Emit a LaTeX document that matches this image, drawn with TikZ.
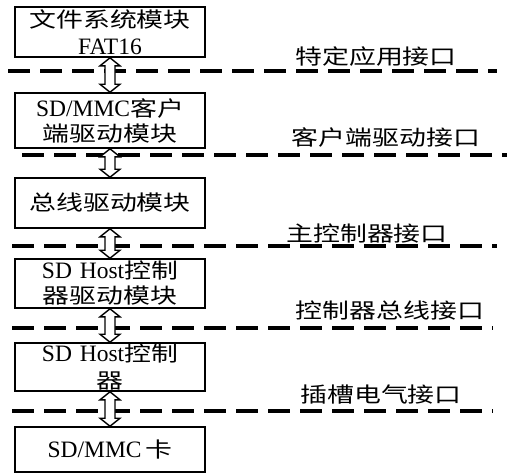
\documentclass[tikz,border=0pt]{standalone}
\usepackage{fontspec}
\setmainfont{Liberation Serif}
\newfontfamily\cjk[FakeStretch=1.28]{Noto Sans CJK SC}
\newcommand\zh[1]{{\fontsize{21}{25}\selectfont\cjk #1}}
\usetikzlibrary{calc}
\newcommand\dblarr[2]{\draw[arr] (#1.south) -- ++(10,8) -- ++(-5,0) -- ($(#2.north)+(5,-8)$) -- ++(5,0) -- (#2.north) -- ++(-10,-8) -- ++(5,0) -- ($(#1.south)+(-5,8)$) -- ++(-5,0) -- cycle;}
\begin{document}
\begin{tikzpicture}[x=1pt,y=-1pt,
 box/.style={draw, line width=1.6pt, minimum width=190pt, text width=186pt, align=center, inner sep=0pt, font=\fontsize{23.5}{25}\selectfont},
 sep/.style={line width=4pt, dash pattern=on 22pt off 10pt},
 lbl/.style={font=\fontsize{21}{25}\selectfont\cjk, inner sep=0pt},
 arr/.style={draw, line width=1.4pt, fill=white, line join=miter}]
\useasboundingbox[fill=white] (0,0) rectangle (510,475);
% boxes
\node[box, minimum height=50pt] (b1) at (110,32) {\zh{文件系统模块}\\[2pt]FAT16};
\node[box, minimum height=55pt] (b2) at (110,120.5) {SD/MMC\zh{客户}\\\zh{端驱动模块}};
\node[box, minimum height=50pt] (b3) at (110,203) {\zh{总线驱动模块}};
\node[box, minimum height=49pt] (b4) at (110,283.5) {SD Host\zh{控制}\\\zh{器驱动模块}};
\node[box, minimum height=48pt] (b5) at (110,367) {SD Host\zh{控制}\\[2pt]\zh{器}};
\node[box, minimum height=45pt] (b6) at (110,449.5) {SD/MMC\,\zh{卡}};
% separators
\draw[sep] (8,71) -- (497,71);
\draw[sep] (22,155) -- (507,155);
\draw[sep] (12,246) -- (497,246);
\draw[sep] (12,328) -- (493,328);
\draw[sep] (12,411) -- (493,411);
% labels
\node[lbl] (l1) at (376,57) {特定应用接口};
\node[lbl] (l2) at (386,137) {客户端驱动接口};
\node[lbl] (l3) at (367,234) {主控制器接口};
\node[lbl] (l4) at (390,311) {控制器总线接口};
\node[lbl] (l5) at (381,395) {插槽电气接口};
% arrows
\dblarr{b1}{b2}
\dblarr{b2}{b3}
\dblarr{b3}{b4}
\dblarr{b4}{b5}
\dblarr{b5}{b6}
\end{tikzpicture}
\end{document}
